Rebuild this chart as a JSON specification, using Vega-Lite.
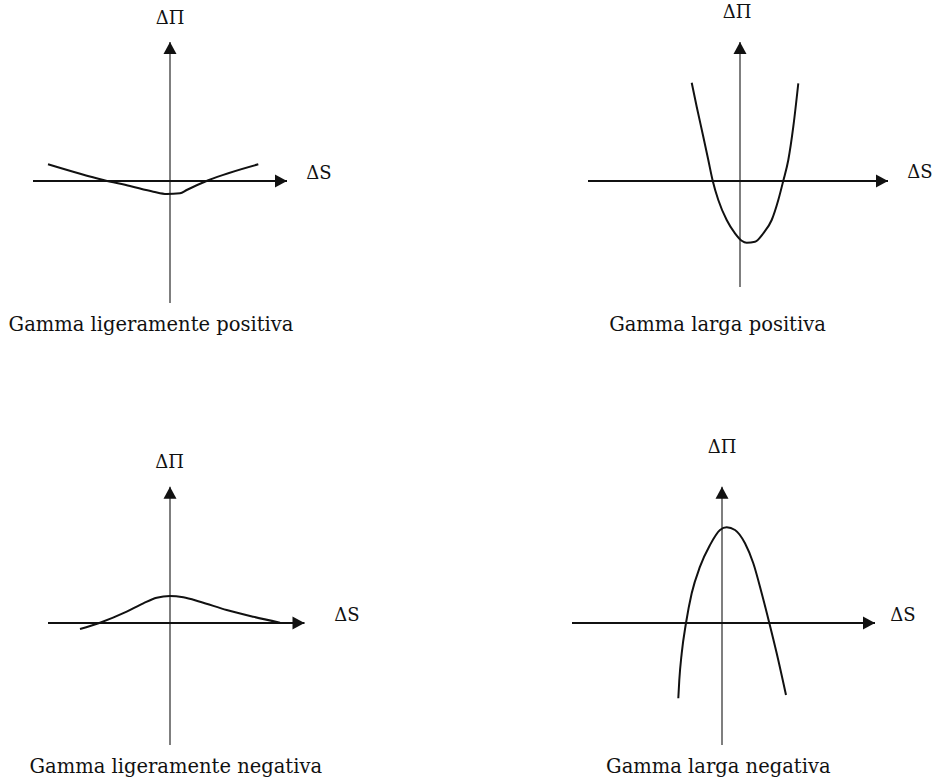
{
  "$schema": "https://vega.github.io/schema/vega-lite/v6.json",
  "padding": 0,
  "background": "white",
  "spacing": 0,
  "columns": 2,
  "config": {"view": {"stroke": null}, "concat": {"spacing": 0}},
  "datasets": {
    "tl": [
      {"dS": -1.22, "dPi": 0.167}, {"dS": -0.667, "dPi": 0.01}, {"dS": -0.4, "dPi": -0.05}, {"dS": -0.167, "dPi": -0.107},
      {"dS": -0.033, "dPi": -0.13}, {"dS": 0.1, "dPi": -0.123}, {"dS": 0.167, "dPi": -0.09}, {"dS": 0.383, "dPi": 0.007}, {"dS": 0.883, "dPi": 0.167}
    ],
    "tr": [
      {"dS": -0.483, "dPi": 0.983}, {"dS": -0.433, "dPi": 0.743}, {"dS": -0.367, "dPi": 0.443}, {"dS": -0.317, "dPi": 0.21},
      {"dS": -0.273, "dPi": 0.003}, {"dS": -0.217, "dPi": -0.19}, {"dS": -0.133, "dPi": -0.39}, {"dS": -0.05, "dPi": -0.523},
      {"dS": 0.017, "dPi": -0.597}, {"dS": 0.067, "dPi": -0.617}, {"dS": 0.15, "dPi": -0.607}, {"dS": 0.233, "dPi": -0.523},
      {"dS": 0.317, "dPi": -0.39}, {"dS": 0.383, "dPi": -0.19}, {"dS": 0.433, "dPi": 0.003}, {"dS": 0.483, "dPi": 0.21},
      {"dS": 0.533, "dPi": 0.543}, {"dS": 0.583, "dPi": 0.977}
    ],
    "bl": [
      {"dS": -0.9, "dPi": -0.06}, {"dS": -0.7, "dPi": 0.003}, {"dS": -0.433, "dPi": 0.113}, {"dS": -0.267, "dPi": 0.197},
      {"dS": -0.133, "dPi": 0.253}, {"dS": 0.0, "dPi": 0.27}, {"dS": 0.133, "dPi": 0.257}, {"dS": 0.3, "dPi": 0.213},
      {"dS": 0.567, "dPi": 0.13}, {"dS": 0.833, "dPi": 0.063}, {"dS": 1.1, "dPi": 0.003}
    ],
    "br": [
      {"dS": -0.437, "dPi": -0.753}, {"dS": -0.427, "dPi": -0.57}, {"dS": -0.403, "dPi": -0.303}, {"dS": -0.36, "dPi": 0.0},
      {"dS": -0.303, "dPi": 0.297}, {"dS": -0.22, "dPi": 0.563}, {"dS": -0.12, "dPi": 0.78}, {"dS": -0.02, "dPi": 0.93},
      {"dS": 0.047, "dPi": 0.957}, {"dS": 0.13, "dPi": 0.93}, {"dS": 0.23, "dPi": 0.797}, {"dS": 0.313, "dPi": 0.597},
      {"dS": 0.397, "dPi": 0.297}, {"dS": 0.473, "dPi": 0.0}, {"dS": 0.547, "dPi": -0.303}, {"dS": 0.64, "dPi": -0.72}
    ]
  },
  "concat": [
    {
      "width": 470, "height": 390,
      "layer": [
        {"data": {"values": [{}]}, "mark": {"type": "rule", "color": "#555", "strokeWidth": 1.5},
         "encoding": {"x": {"datum": 0, "type": "quantitative", "scale": {"domain": [-1.7, 3.0], "nice": false, "zero": false}, "axis": null},
                      "y": {"datum": -1.22, "type": "quantitative", "scale": {"domain": [-2.09, 1.81], "nice": false, "zero": false}, "axis": null},
                      "y2": {"datum": 1.39}}},
        {"data": {"values": [{}]}, "mark": {"type": "rule", "color": "#111", "strokeWidth": 2},
         "encoding": {"x": {"datum": -1.37, "type": "quantitative", "scale": {"domain": [-1.7, 3.0], "nice": false, "zero": false}, "axis": null},
                      "x2": {"datum": 1.17},
                      "y": {"datum": 0, "type": "quantitative", "scale": {"domain": [-2.09, 1.81], "nice": false, "zero": false}, "axis": null}}},
        {"data": {"name": "tl"}, "mark": {"type": "line", "color": "#111", "strokeWidth": 2, "interpolate": "monotone"},
         "encoding": {"x": {"field": "dS", "type": "quantitative", "scale": {"domain": [-1.7, 3.0], "nice": false, "zero": false}, "axis": null},
                      "y": {"field": "dPi", "type": "quantitative", "scale": {"domain": [-2.09, 1.81], "nice": false, "zero": false}, "axis": null}}},
        {"data": {"values": [{}]}, "mark": {"type": "point", "shape": "M0,0L1,1.85L-1,1.85Z", "size": 169, "filled": true, "color": "#111", "opacity": 1, "strokeWidth": 0},
         "encoding": {"x": {"datum": 0, "type": "quantitative"}, "y": {"datum": 1.39, "type": "quantitative"}}},
        {"data": {"values": [{}]}, "mark": {"type": "point", "shape": "M0,0L-1.85,-1L-1.85,1Z", "size": 169, "filled": true, "color": "#111", "opacity": 1, "strokeWidth": 0},
         "encoding": {"x": {"datum": 1.17, "type": "quantitative"}, "y": {"datum": 0, "type": "quantitative"}}},
        {"data": {"values": [{}]}, "mark": {"type": "text", "text": "ΔΠ", "font": "DejaVu Serif", "fontSize": 18, "align": "center", "baseline": "alphabetic", "color": "#111"},
         "encoding": {"x": {"datum": 0, "type": "quantitative"}, "y": {"datum": 1.57, "type": "quantitative"}}},
        {"data": {"values": [{}]}, "mark": {"type": "text", "text": "ΔS", "font": "DejaVu Serif", "fontSize": 18, "align": "center", "baseline": "alphabetic", "color": "#111"},
         "encoding": {"x": {"datum": 1.49, "type": "quantitative"}, "y": {"datum": 0.02, "type": "quantitative"}}},
        {"data": {"values": [{}]}, "mark": {"type": "text", "text": "Gamma ligeramente positiva", "font": "DejaVu Serif", "fontSize": 19.5, "align": "center", "baseline": "alphabetic", "color": "#111"},
         "encoding": {"x": {"datum": -0.19, "type": "quantitative"}, "y": {"datum": -1.5, "type": "quantitative"}}}
      ]
    },
    {
      "width": 470, "height": 390,
      "layer": [
        {"data": {"values": [{}]}, "mark": {"type": "rule", "color": "#555", "strokeWidth": 1.5},
         "encoding": {"x": {"datum": 0, "type": "quantitative", "scale": {"domain": [-2.7, 2.0], "nice": false, "zero": false}, "axis": null},
                      "y": {"datum": -1.06, "type": "quantitative", "scale": {"domain": [-2.09, 1.81], "nice": false, "zero": false}, "axis": null},
                      "y2": {"datum": 1.39}}},
        {"data": {"values": [{}]}, "mark": {"type": "rule", "color": "#111", "strokeWidth": 2},
         "encoding": {"x": {"datum": -1.52, "type": "quantitative", "scale": {"domain": [-2.7, 2.0], "nice": false, "zero": false}, "axis": null},
                      "x2": {"datum": 1.48},
                      "y": {"datum": 0, "type": "quantitative", "scale": {"domain": [-2.09, 1.81], "nice": false, "zero": false}, "axis": null}}},
        {"data": {"name": "tr"}, "mark": {"type": "line", "color": "#111", "strokeWidth": 2, "interpolate": "monotone"},
         "encoding": {"x": {"field": "dS", "type": "quantitative", "scale": {"domain": [-2.7, 2.0], "nice": false, "zero": false}, "axis": null},
                      "y": {"field": "dPi", "type": "quantitative", "scale": {"domain": [-2.09, 1.81], "nice": false, "zero": false}, "axis": null}}},
        {"data": {"values": [{}]}, "mark": {"type": "point", "shape": "M0,0L1,1.85L-1,1.85Z", "size": 169, "filled": true, "color": "#111", "opacity": 1, "strokeWidth": 0},
         "encoding": {"x": {"datum": 0, "type": "quantitative"}, "y": {"datum": 1.39, "type": "quantitative"}}},
        {"data": {"values": [{}]}, "mark": {"type": "point", "shape": "M0,0L-1.85,-1L-1.85,1Z", "size": 169, "filled": true, "color": "#111", "opacity": 1, "strokeWidth": 0},
         "encoding": {"x": {"datum": 1.48, "type": "quantitative"}, "y": {"datum": 0, "type": "quantitative"}}},
        {"data": {"values": [{}]}, "mark": {"type": "text", "text": "ΔΠ", "font": "DejaVu Serif", "fontSize": 18, "align": "center", "baseline": "alphabetic", "color": "#111"},
         "encoding": {"x": {"datum": -0.03, "type": "quantitative"}, "y": {"datum": 1.63, "type": "quantitative"}}},
        {"data": {"values": [{}]}, "mark": {"type": "text", "text": "ΔS", "font": "DejaVu Serif", "fontSize": 18, "align": "center", "baseline": "alphabetic", "color": "#111"},
         "encoding": {"x": {"datum": 1.8, "type": "quantitative"}, "y": {"datum": 0.027, "type": "quantitative"}}},
        {"data": {"values": [{}]}, "mark": {"type": "text", "text": "Gamma larga positiva", "font": "DejaVu Serif", "fontSize": 19.5, "align": "center", "baseline": "alphabetic", "color": "#111"},
         "encoding": {"x": {"datum": -0.225, "type": "quantitative"}, "y": {"datum": -1.5, "type": "quantitative"}}}
      ]
    },
    {
      "width": 470, "height": 390,
      "layer": [
        {"data": {"values": [{}]}, "mark": {"type": "rule", "color": "#555", "strokeWidth": 1.5},
         "encoding": {"x": {"datum": 0, "type": "quantitative", "scale": {"domain": [-1.7, 3.0], "nice": false, "zero": false}, "axis": null},
                      "y": {"datum": -1.22, "type": "quantitative", "scale": {"domain": [-1.57, 2.33], "nice": false, "zero": false}, "axis": null},
                      "y2": {"datum": 1.363}}},
        {"data": {"values": [{}]}, "mark": {"type": "rule", "color": "#111", "strokeWidth": 2},
         "encoding": {"x": {"datum": -1.22, "type": "quantitative", "scale": {"domain": [-1.7, 3.0], "nice": false, "zero": false}, "axis": null},
                      "x2": {"datum": 1.345},
                      "y": {"datum": 0, "type": "quantitative", "scale": {"domain": [-1.57, 2.33], "nice": false, "zero": false}, "axis": null}}},
        {"data": {"name": "bl"}, "mark": {"type": "line", "color": "#111", "strokeWidth": 2, "interpolate": "monotone"},
         "encoding": {"x": {"field": "dS", "type": "quantitative", "scale": {"domain": [-1.7, 3.0], "nice": false, "zero": false}, "axis": null},
                      "y": {"field": "dPi", "type": "quantitative", "scale": {"domain": [-1.57, 2.33], "nice": false, "zero": false}, "axis": null}}},
        {"data": {"values": [{}]}, "mark": {"type": "point", "shape": "M0,0L1,1.85L-1,1.85Z", "size": 169, "filled": true, "color": "#111", "opacity": 1, "strokeWidth": 0},
         "encoding": {"x": {"datum": 0, "type": "quantitative"}, "y": {"datum": 1.363, "type": "quantitative"}}},
        {"data": {"values": [{}]}, "mark": {"type": "point", "shape": "M0,0L-1.85,-1L-1.85,1Z", "size": 169, "filled": true, "color": "#111", "opacity": 1, "strokeWidth": 0},
         "encoding": {"x": {"datum": 1.345, "type": "quantitative"}, "y": {"datum": 0, "type": "quantitative"}}},
        {"data": {"values": [{}]}, "mark": {"type": "text", "text": "ΔΠ", "font": "DejaVu Serif", "fontSize": 18, "align": "center", "baseline": "alphabetic", "color": "#111"},
         "encoding": {"x": {"datum": -0.005, "type": "quantitative"}, "y": {"datum": 1.55, "type": "quantitative"}}},
        {"data": {"values": [{}]}, "mark": {"type": "text", "text": "ΔS", "font": "DejaVu Serif", "fontSize": 18, "align": "center", "baseline": "alphabetic", "color": "#111"},
         "encoding": {"x": {"datum": 1.77, "type": "quantitative"}, "y": {"datum": 0.023, "type": "quantitative"}}},
        {"data": {"values": [{}]}, "mark": {"type": "text", "text": "Gamma ligeramente negativa", "font": "DejaVu Serif", "fontSize": 19.5, "align": "center", "baseline": "alphabetic", "color": "#111"},
         "encoding": {"x": {"datum": 0.058, "type": "quantitative"}, "y": {"datum": -1.5, "type": "quantitative"}}}
      ]
    },
    {
      "width": 470, "height": 390,
      "layer": [
        {"data": {"values": [{}]}, "mark": {"type": "rule", "color": "#555", "strokeWidth": 1.5},
         "encoding": {"x": {"datum": 0, "type": "quantitative", "scale": {"domain": [-2.52, 2.18], "nice": false, "zero": false}, "axis": null},
                      "y": {"datum": -1.22, "type": "quantitative", "scale": {"domain": [-1.57, 2.33], "nice": false, "zero": false}, "axis": null},
                      "y2": {"datum": 1.363}}},
        {"data": {"values": [{}]}, "mark": {"type": "rule", "color": "#111", "strokeWidth": 2},
         "encoding": {"x": {"datum": -1.5, "type": "quantitative", "scale": {"domain": [-2.52, 2.18], "nice": false, "zero": false}, "axis": null},
                      "x2": {"datum": 1.53},
                      "y": {"datum": 0, "type": "quantitative", "scale": {"domain": [-1.57, 2.33], "nice": false, "zero": false}, "axis": null}}},
        {"data": {"name": "br"}, "mark": {"type": "line", "color": "#111", "strokeWidth": 2, "interpolate": "monotone"},
         "encoding": {"x": {"field": "dS", "type": "quantitative", "scale": {"domain": [-2.52, 2.18], "nice": false, "zero": false}, "axis": null},
                      "y": {"field": "dPi", "type": "quantitative", "scale": {"domain": [-1.57, 2.33], "nice": false, "zero": false}, "axis": null}}},
        {"data": {"values": [{}]}, "mark": {"type": "point", "shape": "M0,0L1,1.85L-1,1.85Z", "size": 169, "filled": true, "color": "#111", "opacity": 1, "strokeWidth": 0},
         "encoding": {"x": {"datum": 0, "type": "quantitative"}, "y": {"datum": 1.363, "type": "quantitative"}}},
        {"data": {"values": [{}]}, "mark": {"type": "point", "shape": "M0,0L-1.85,-1L-1.85,1Z", "size": 169, "filled": true, "color": "#111", "opacity": 1, "strokeWidth": 0},
         "encoding": {"x": {"datum": 1.53, "type": "quantitative"}, "y": {"datum": 0, "type": "quantitative"}}},
        {"data": {"values": [{}]}, "mark": {"type": "text", "text": "ΔΠ", "font": "DejaVu Serif", "fontSize": 18, "align": "center", "baseline": "alphabetic", "color": "#111"},
         "encoding": {"x": {"datum": 0, "type": "quantitative"}, "y": {"datum": 1.7, "type": "quantitative"}}},
        {"data": {"values": [{}]}, "mark": {"type": "text", "text": "ΔS", "font": "DejaVu Serif", "fontSize": 18, "align": "center", "baseline": "alphabetic", "color": "#111"},
         "encoding": {"x": {"datum": 1.81, "type": "quantitative"}, "y": {"datum": 0.023, "type": "quantitative"}}},
        {"data": {"values": [{}]}, "mark": {"type": "text", "text": "Gamma larga negativa", "font": "DejaVu Serif", "fontSize": 19.5, "align": "center", "baseline": "alphabetic", "color": "#111"},
         "encoding": {"x": {"datum": -0.037, "type": "quantitative"}, "y": {"datum": -1.5, "type": "quantitative"}}}
      ]
    }
  ]
}
